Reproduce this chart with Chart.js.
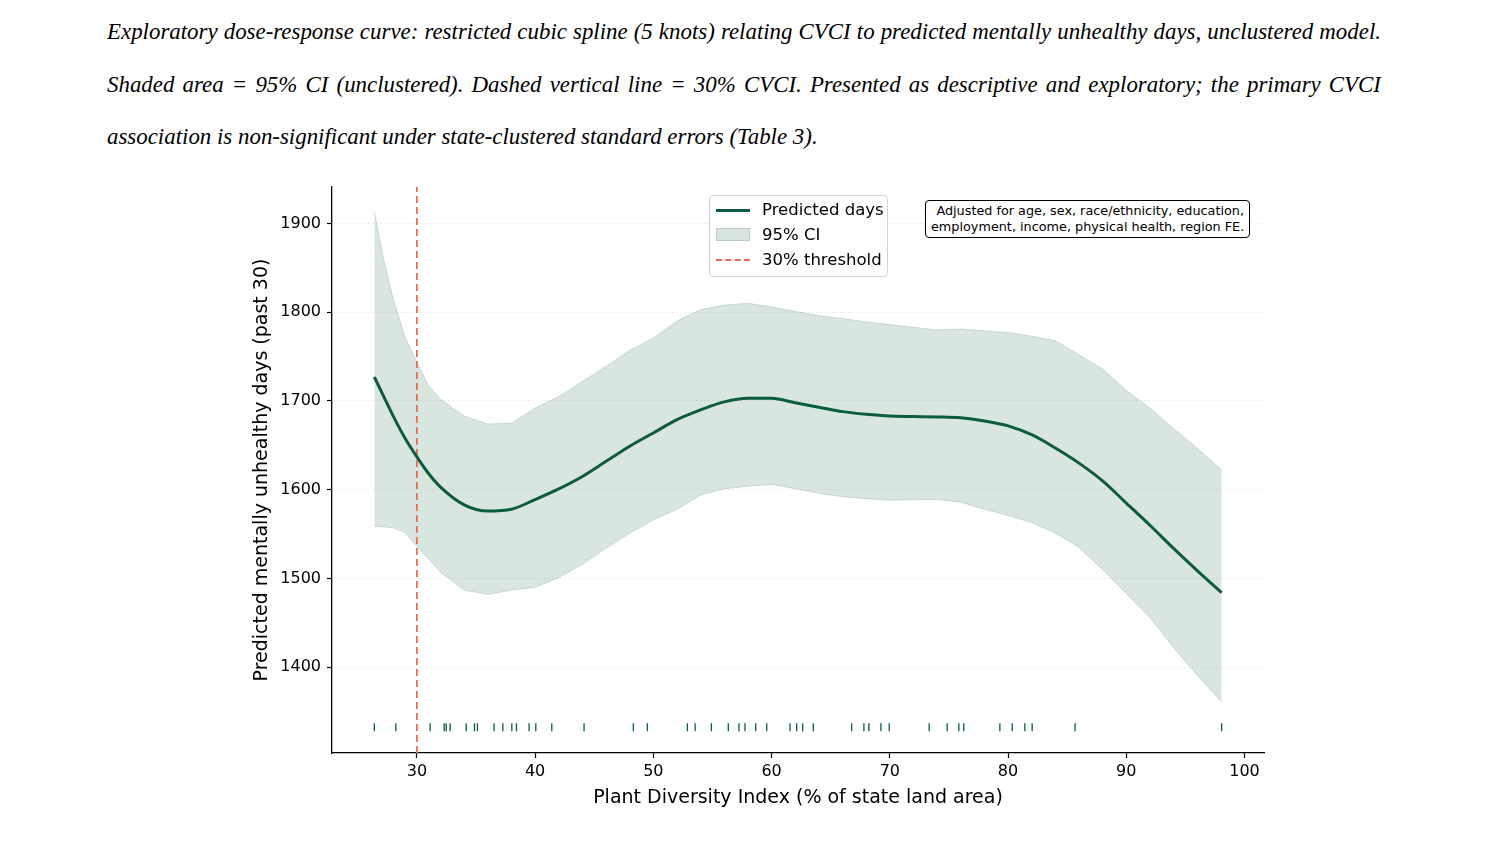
<!DOCTYPE html>
<html>
<head>
<meta charset="utf-8">
<title>CVCI dose-response</title>
<script src="https://cdn.jsdelivr.net/npm/chart.js@4.4.1/dist/chart.umd.min.js"></script>
<style>
  html, body { margin: 0; padding: 0; background: #fff; }
  body { width: 1487px; height: 868px; position: relative; overflow: hidden; }
  .cap { position: absolute; left: 107px; top: 6px; width: 1274px;
         font-family: "Liberation Serif", "Times New Roman", serif; font-style: italic;
         font-size: 22.9px; color: #000; }
  .cap .ln { height: 52.5px; line-height: 52.5px; white-space: nowrap; overflow: visible; }
  .cap .j { text-align: justify; text-align-last: justify; }
  #wrap { position: absolute; left: 240px; top: 170px; width: 1040px; height: 650px; }
  .legend { position: absolute; left: 709px; top: 195px; width: 177px; height: 80px;
            border: 1px solid #d3d3d3; border-radius: 4px; background: rgba(255,255,255,0.85);
            font-family: "DejaVu Sans", sans-serif; font-size: 16.5px; color: #000; }
  .legend .row { position: absolute; left: 0; height: 24px; line-height: 24px; }
  .legend .txt { position: absolute; left: 52px; white-space: nowrap; }
  .legend .h { position: absolute; left: 6px; width: 34px; }
  .note { position: absolute; left: 925px; top: 200px; width: 313px; padding: 2px 5px 3px 5px;
          border: 1.3px solid #000; border-radius: 4px; background: #fff;
          font-family: "DejaVu Sans", sans-serif; font-size: 12.8px; line-height: 15.5px;
          text-align: right; color: #000; white-space: nowrap; }
</style>
</head>
<body>

<div class="cap">
  <div class="ln j">Exploratory dose-response curve: restricted cubic spline (5 knots) relating CVCI to predicted mentally unhealthy days, unclustered model.</div>
  <div class="ln j">Shaded area = 95% CI (unclustered). Dashed vertical line = 30% CVCI. Presented as descriptive and exploratory; the primary CVCI</div>
  <div class="ln">association is non-significant under state-clustered standard errors (Table 3).</div>
</div>

<div id="wrap"><canvas id="c"></canvas></div>

<div class="legend">
  <div class="row" style="top:2px;width:100%">
    <div class="h" style="top:11px;height:0;border-top:3px solid #0b5d3b"></div>
    <div class="txt">Predicted days</div>
  </div>
  <div class="row" style="top:27px;width:100%">
    <div class="h" style="top:5px;height:13px;background:#d8e4de;border:1px solid #b9cfc3;box-sizing:border-box"></div>
    <div class="txt">95% CI</div>
  </div>
  <div class="row" style="top:52px;width:100%">
    <div class="h" style="top:11px;height:0;border-top:2px dashed #e76f51"></div>
    <div class="txt">30% threshold</div>
  </div>
</div>

<div class="note">Adjusted for age, sex, race/ethnicity, education,<br>employment, income, physical health, region FE.</div>

<script>
// ── DATOS ───────────────────────────────────────────
var xGrid = [26.4, 27.2, 28, 29, 30, 31, 32, 34, 36, 38, 40, 42, 44, 46, 48, 50, 52, 54, 56, 58,
             60, 62, 64, 66, 68, 70, 72, 74, 76, 78, 80, 82, 84, 86, 88, 90, 92, 94, 96, 98.07];

var predicted = [1727, 1705, 1683, 1658, 1637, 1618, 1603, 1583, 1576, 1578, 1589, 1601, 1615, 1632, 1649, 1664, 1679, 1690, 1699, 1703,
                 1703, 1698, 1693, 1688, 1685, 1683, 1682.5, 1682, 1681, 1677.5, 1672, 1662, 1647, 1630, 1610, 1585, 1560, 1534, 1509, 1484];

var ciUpper = [1913, 1859, 1815, 1772, 1744, 1717, 1702, 1683, 1674, 1675, 1692, 1705, 1722, 1739, 1757, 1771, 1790, 1803, 1808, 1810,
               1806, 1801, 1796, 1793, 1789, 1786, 1783, 1780, 1781, 1779, 1777, 1773, 1768, 1752, 1736, 1712, 1692, 1669, 1647, 1622];

var ciLower = [1559, 1558, 1557, 1552, 1536, 1522, 1507, 1487, 1482, 1487, 1490, 1501, 1516, 1534, 1551, 1566, 1578, 1594, 1601, 1604,
               1606, 1601, 1596, 1592, 1590, 1588, 1589, 1589, 1586, 1578, 1571, 1563, 1551, 1535, 1510, 1483, 1456, 1422, 1391, 1361];

// observaciones por estado (rug)
var rugX = [26.4, 28.22, 31.12, 32.31, 32.48, 32.81, 34.17, 34.87, 35.12, 36.53, 37.27, 38.03, 38.42, 39.49, 40.06, 41.41,
            44.14, 48.31, 49.49, 52.88, 53.53, 54.91, 56.34, 57.24, 57.75, 58.66, 59.59, 61.56, 62.12, 62.63, 63.53,
            66.77, 67.81, 68.23, 69.25, 69.95, 73.33, 74.85, 75.84, 76.26, 79.31, 80.35, 81.42, 82.04, 85.67, 98.07];
var rugY = 1332.5;

var thresholdX = 30;

var xTicks = [30, 40, 50, 60, 70, 80, 90, 100];
var yTicks = [1400, 1500, 1600, 1700, 1800, 1900];
var xRange = [22.82, 101.65];
var yRange = [1303.5, 1941];

var xTitle = 'Plant Diversity Index (% of state land area)';
var yTitle = 'Predicted mentally unhealthy days (past 30)';

// ── ESTILO ──────────────────────────────────────────
var GREEN   = '#0b5d3b';
var CI_FILL = 'rgba(11,93,59,0.155)';
var CI_EDGE = 'rgba(11,93,59,0.16)';
var ORANGE  = '#e76f51';
var FONT    = "'DejaVu Sans', sans-serif";

function pts(xs, ys) { return xs.map(function (x, i) { return { x: x, y: ys[i] }; }); }
function plain(v) { return String(v); }

new Chart(document.getElementById('c'), {
  type: 'line',
  data: {
    datasets: [
      { data: pts(xGrid, ciLower), borderColor: CI_EDGE, borderWidth: 1, pointRadius: 0,
        fill: false, tension: 0, order: 4 },
      { data: pts(xGrid, ciUpper), borderColor: CI_EDGE, borderWidth: 1, pointRadius: 0,
        backgroundColor: CI_FILL, fill: '-1', tension: 0, order: 4 },
      { data: [{ x: thresholdX, y: yRange[0] }, { x: thresholdX, y: yRange[1] }],
        borderColor: ORANGE, borderWidth: 1.8, borderDash: [7, 4], pointRadius: 0, order: 2 },
      { data: pts(xGrid, predicted), borderColor: GREEN, borderWidth: 3, pointRadius: 0,
        cubicInterpolationMode: 'monotone', order: 1 },
      { type: 'scatter', data: rugX.map(function (x) { return { x: x, y: rugY }; }),
        pointStyle: 'line', rotation: 90, radius: 4, borderColor: GREEN, borderWidth: 1.3, order: 0 }
    ]
  },
  options: {
    responsive: true,
    maintainAspectRatio: false,
    animation: false,
    layout: { padding: { top: 17, right: 16, left: 0, bottom: 0 } },
    plugins: { legend: { display: false }, tooltip: { enabled: false } },
    scales: {
      x: {
        type: 'linear', min: xRange[0], max: xRange[1],
        afterBuildTicks: function (s) { s.ticks = xTicks.map(function (v) { return { value: v }; }); },
        afterFit: function (s) { s.height = 67; },
        grid: { drawOnChartArea: false, tickLength: 5, tickColor: '#000', tickWidth: 1.2 },
        border: { color: '#000', width: 1.3 },
        ticks: { color: '#000', font: { family: FONT, size: 16 }, padding: 4, maxRotation: 0, callback: plain },
        title: { display: true, text: xTitle, color: '#000', font: { family: FONT, size: 19 },
                 padding: { top: 0, bottom: 11 } }
      },
      y: {
        type: 'linear', min: yRange[0], max: yRange[1],
        afterBuildTicks: function (s) { s.ticks = yTicks.map(function (v) { return { value: v }; }); },
        afterFit: function (s) { s.width = 92; },
        grid: { color: '#e6e6e6', lineWidth: 1, tickLength: 5, tickColor: '#000', tickWidth: 1.2 },
        border: { color: '#000', width: 1.3, dash: [1.5, 2.5] },
        ticks: { color: '#000', font: { family: FONT, size: 16 }, padding: 6, callback: plain },
        title: { display: true, text: yTitle, color: '#000', font: { family: FONT, size: 19 },
                 padding: { top: 11, bottom: 0 } }
      }
    }
  }
});
</script>
</body>
</html>
